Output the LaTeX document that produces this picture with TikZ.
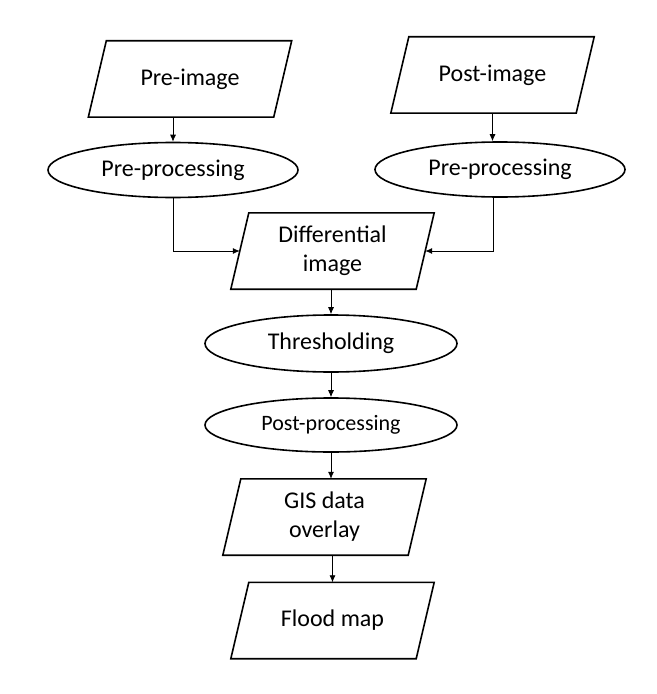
\documentclass[tikz,border=0pt]{standalone}
\usepackage{fontspec}
\setmainfont{Carlito}
\usetikzlibrary{shapes.geometric,arrows.meta,calc}
\tikzset{
  para/.style={rectangle, minimum width=203bp, minimum height=76bp,
    inner sep=0pt, align=center, font=\fontsize{24bp}{29bp}\selectfont},
  paraline/.style={draw=black, line width=1.6bp, line join=miter},
  proc/.style={ellipse, minimum width=250bp, minimum height=55bp, inner sep=0pt,
    draw=black, line width=1.6bp, font=\fontsize{24bp}{29bp}\selectfont},
  arr/.style={-{Latex[length=7bp,width=6bp]}, line width=0.8bp, black}
}
\newcommand\paradraw[1]{\draw[paraline] ([xshift=18bp]#1.north west) -- (#1.north east) -- ([xshift=-18bp]#1.south east) -- (#1.south west) -- cycle;}
\begin{document}
\begin{tikzpicture}[x=1bp,y=-1bp]
\useasboundingbox (0,0) rectangle (657,694);
\node[para] (pre) at (190,79) {Pre-image};
\node[para] (post) at (492.5,75) {Post-image};
\node[proc] (pp1) at (173,170) {Pre-processing};
\node[proc] (pp2) at (500,169.5) {Pre-processing};
\node[para] (diff) at (332.5,251) {Differential\\image};
\node[proc, minimum width=252bp, minimum height=57bp] (thr) at (331,343.5) {Thresholding};
\node[proc, minimum width=252bp, minimum height=54bp, font=\fontsize{22bp}{26bp}\selectfont] (pop) at (331,425) {Post-processing};
\node[para] (gis) at (324.5,517) {GIS data\\overlay};
\node[para] (flood) at (332.5,620.5) {Flood map};
\paradraw{pre}
\paradraw{post}
\paradraw{diff}
\paradraw{gis}
\paradraw{flood}
\coordinate (pp2out) at ($(pp2.south)+(-7,0)$);
\coordinate (diffin1) at ([xshift=9bp]diff.west);
\coordinate (diffin2) at ([xshift=-9bp]diff.east);
\draw[arr] (pp1.north |- pre.south) -- (pp1.north);
\draw[arr] (post.south) -- (post.south |- pp2.north);
\draw[arr] (pp1.south) |- (diffin1);
\draw[arr] (pp2out) |- (diffin2);
\draw[arr] (thr.north |- diff.south) -- (thr.north);
\draw[arr] (thr.south) -- (pop.north);
\draw[arr] (pop.south) -- (pop.south |- gis.north);
\draw[arr] (flood.north |- gis.south) -- (flood.north);
\end{tikzpicture}
\end{document}
